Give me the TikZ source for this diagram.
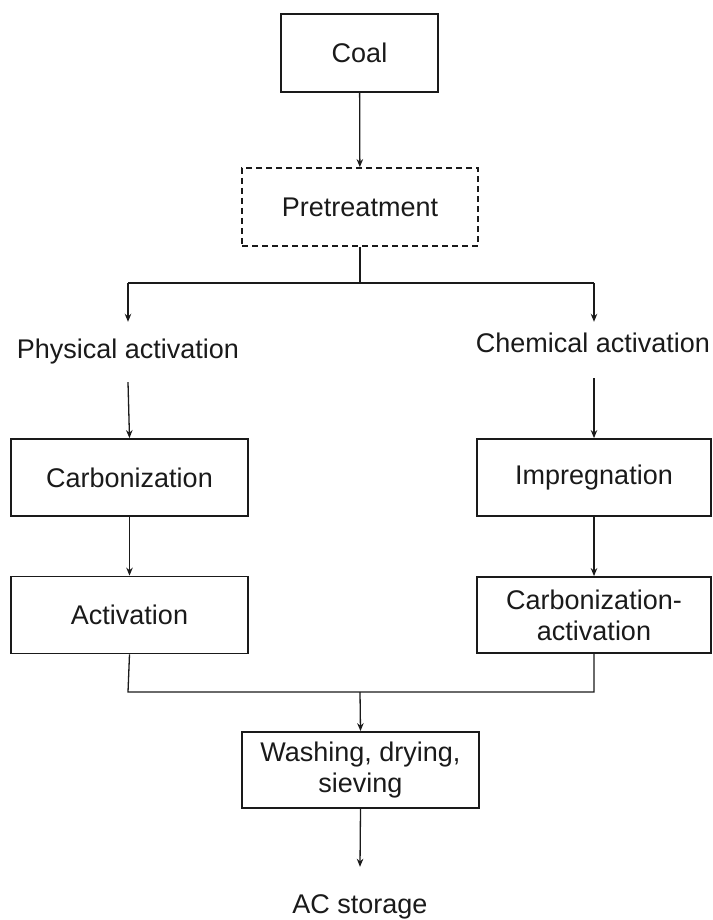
\documentclass[tikz,border=0pt]{standalone}
\usepackage{fontspec}
\setmainfont{Liberation Sans}
\usetikzlibrary{arrows.meta}
\definecolor{ink}{HTML}{1A1A1A}
\begin{document}
\begin{tikzpicture}[x=1pt,y=-1pt,
  txt/.style={font=\fontsize{27}{31}\selectfont, text=ink, align=center, inner sep=0pt},
  box/.style={txt, draw=ink, line width=1.8pt, minimum width=237pt, minimum height=77pt},
  dbox/.style={box, dash pattern=on 6pt off 4pt},
  conn/.style={draw=ink, line width=1.3pt},
  arr/.style={conn, -{Stealth[length=8pt,width=6.5pt]}}
]
\useasboundingbox (0,0) rectangle (712,920);

\node[box, minimum width=157pt, minimum height=78pt] (coal) at (359.5,53) {Coal};
\node[dbox, minimum width=236pt, minimum height=78pt] (pre) at (360,207) {Pretreatment};

\node[txt, minimum height=60pt] (phys) at (128,352) {Physical activation};
\node[txt, minimum height=42pt] (chem) at (593,343) {Chemical activation};

\node[box] (carb) at (129.5,477.5) {Carbonization};
\node[box] (act) at (129.5,615) {Activation};
\node[box, minimum width=234pt] (imp) at (594,477.5) {Impregnation};
\node[box, minimum width=234pt, minimum height=76pt] (cact) at (594,615) {Carbonization-\\activation};

\node[box, minimum height=76pt] (wash) at (360.5,770) {Washing, drying,\\sieving};
\node[txt, minimum height=80pt] (ac) at (360,907) {AC storage};

\coordinate (split) at (360,283);
\coordinate (splitL) at (128,283);
\coordinate (splitR) at (594,283);
\coordinate (joinL) at (128,692);
\coordinate (joinR) at (594,692);
\coordinate (join) at (360,692);

\draw[arr] (coal) -- (pre);
\draw[conn] (pre.south) -- (split);
\draw[conn, line width=2pt] (splitL) -- (splitR);
\draw[arr] (splitL) -- (phys.north);
\draw[arr] (splitR) -- (chem.north -| splitR);
\draw[arr] (phys.south) -- (carb.north);
\draw[arr] ([yshift=-14pt]chem.south -| imp.north) -- (imp.north);
\draw[arr] (carb) -- (act);
\draw[arr] (imp) -- (cact);
\draw[conn] (act.south) -- (joinL) -- (joinR) -- (cact.south);
\draw[arr] (join) -- (wash.north);
\draw[arr] (wash.south) -- (ac.north);
\end{tikzpicture}
\end{document}
